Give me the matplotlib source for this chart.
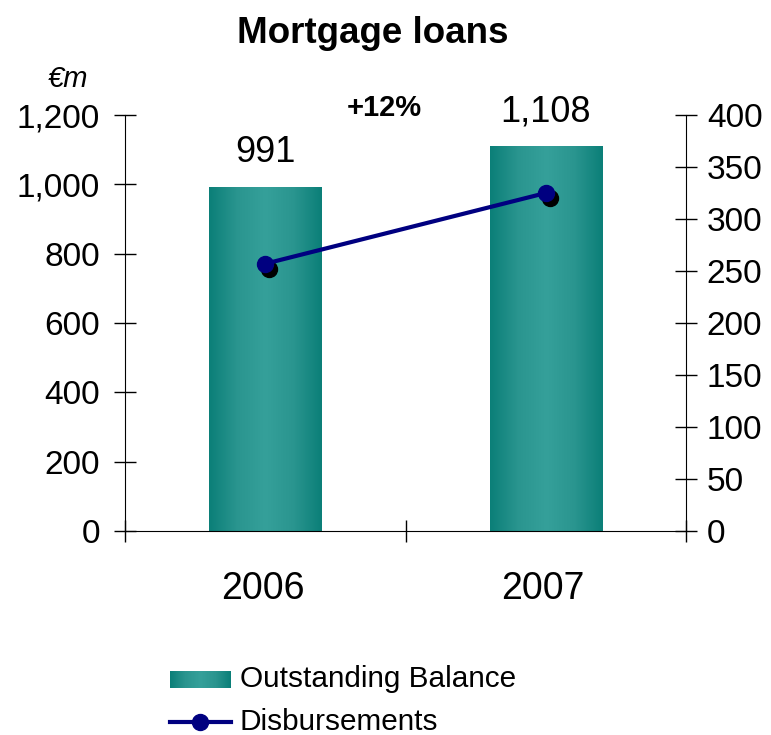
import numpy as np
import matplotlib
matplotlib.use("Agg")
import matplotlib.pyplot as plt
from matplotlib.colors import LinearSegmentedColormap
from matplotlib.lines import Line2D
import matplotlib.transforms as mtransforms

plt.rcParams["font.family"] = ["Liberation Sans", "DejaVu Sans"]

years = ["2006", "2007"]
balance = [991, 1108]          # outstanding balance, EUR m (left axis)
disbursements = [257, 325]     # disbursements, EUR m (right axis)
balance_labels = ["991", "1,108"]
growth_label = "+12%"

# teal shading: dark edges, lighter band in the middle
teal = LinearSegmentedColormap.from_list(
    "teal", ["#0b7f78", "#2a958f", "#35a09a", "#2a958f", "#0b7f78"])

fig = plt.figure(figsize=(7.71, 7.35), dpi=100)
ax = fig.add_axes([0.1621, 0.2776, 0.7277, 0.5659])

x = np.arange(len(years))
bars = ax.bar(x, balance, width=0.4, color="none", edgecolor="none", zorder=2)
grad = np.linspace(0, 1, 256).reshape(1, -1)
for b in bars:
    x0, y0 = b.get_x(), b.get_y()
    ax.imshow(grad, cmap=teal, aspect="auto", zorder=2,
              extent=[x0, x0 + b.get_width(), y0, y0 + b.get_height()])

ax.set_xlim(-0.5, 1.5)
ax.set_ylim(0, 1200)
ax.set_yticks(range(0, 1201, 200))
ax.set_yticklabels([f"{v:,}" for v in range(0, 1201, 200)])
ax.set_xticks([-0.5, 0.5, 1.5])
ax.set_xticklabels([])
ax.tick_params(axis="both", direction="inout", length=16, width=1, labelsize=24)
ax.tick_params(axis="y", pad=10)
for s in ["top", "right"]:
    ax.spines[s].set_visible(False)

for xi, v, lab in zip(x, balance, balance_labels):
    ax.text(xi, v + 100, lab, ha="center", va="center", fontsize=26)

for xi, yr in zip(x, years):
    ax.text(xi - 0.01, -0.14, yr, transform=ax.get_xaxis_transform(),
            ha="center", va="center", fontsize=27)

ax2 = ax.twinx()
ax2.set_ylim(0, 400)
ax2.set_yticks(range(0, 401, 50))
ax2.tick_params(axis="y", direction="inout", length=16, width=1, labelsize=24, pad=7)
for s in ["top", "left", "bottom"]:
    ax2.spines[s].set_visible(False)

# dot shadows, then the disbursements line on top
shadow = mtransforms.offset_copy(ax2.transData, fig=fig, x=4, y=-5, units="dots")
ax2.plot(x, disbursements, "o", color="black", markersize=11.5, transform=shadow, zorder=3)
ax2.plot(x, disbursements, "-o", color="#000080", lw=3, markersize=11.5, zorder=4)

ax.text(0.423, 1220, growth_label, ha="center", va="center", fontsize=21, fontweight="bold")
fig.text(0.088, 0.893, "€m", ha="center", va="center", fontsize=21, style="italic")
fig.text(0.483, 0.955, "Mortgage loans", ha="center", va="center", fontsize=26.5, fontweight="bold")

# legend drawn in figure coordinates
lx0, lx1 = 170 / 771, 231 / 771
leg_ax = fig.add_axes([lx0, 1 - 688 / 735, lx1 - lx0, 17 / 735])
leg_ax.imshow(grad, cmap=teal, aspect="auto")
leg_ax.axis("off")
fig.text(240 / 771, 1 - 679 / 735, "Outstanding Balance", ha="left", va="center", fontsize=21.4)
fig.add_artist(Line2D([lx0, lx1], [1 - 722 / 735] * 2, transform=fig.transFigure,
                      color="#000080", lw=3))
fig.add_artist(Line2D([(lx0 + lx1) / 2], [1 - 722 / 735], transform=fig.transFigure,
                      marker="o", color="#000080", markersize=11.5))
fig.text(240 / 771, 1 - 722 / 735, "Disbursements", ha="left", va="center", fontsize=21.4)

fig.savefig("out.png", dpi=100)
